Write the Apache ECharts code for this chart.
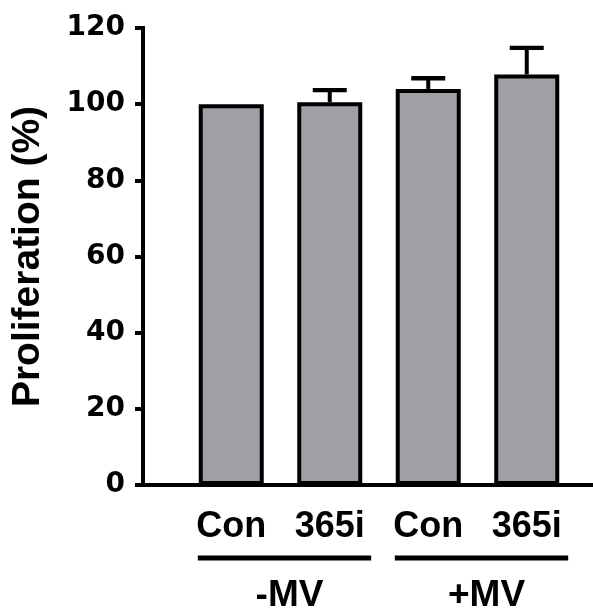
<!DOCTYPE html>
<html>
<head>
<meta charset="utf-8">
<script src="https://cdn.jsdelivr.net/npm/echarts@6/dist/echarts.min.js"></script>
<style>
html, body { margin: 0; padding: 0; background: #fff; }
#chart { width: 593px; height: 610px; }
</style>
</head>
<body>
<div id="chart"></div>
<script>
// values (% of control)
var categories = ['Con', '365i', 'Con', '365i'];
var means = [100, 100.5, 104.0, 107.8];
var errors = [0, 3.2, 2.8, 7.0];
var groupNames = ['-MV', '+MV'];
var groupStart = [0, 2];
var groupEnd = [1, 3];
var yTicks = [0, 20, 40, 60, 80, 100, 120];

var chart = echarts.init(document.getElementById('chart'));

var errData = categories.map(function (c, i) { return [i, means[i], errors[i]]; });
var groupData = groupNames.map(function (g, i) { return [groupStart[i], groupEnd[i]]; });

chart.setOption({
  animation: false,
  backgroundColor: '#fff',
  grid: [
    // axes frame
    { left: 143, right: 0, top: 28, bottom: 125 },
    // bars
    { left: 182, right: 17, top: 28, bottom: 125 }
  ],
  xAxis: [
    {
      gridIndex: 0, type: 'value', min: 0, max: 1,
      axisLine: { show: true, lineStyle: { color: '#000', width: 4, cap: 'square' } },
      axisTick: { show: false }, axisLabel: { show: false }, splitLine: { show: false }
    },
    {
      gridIndex: 1, type: 'category', data: categories,
      axisLine: { show: false }, axisTick: { show: false },
      axisLabel: {
        interval: 0, margin: 24, color: '#000',
        fontSize: 36, fontWeight: 'bold', fontFamily: 'Liberation Sans'
      }
    }
  ],
  yAxis: [
    {
      gridIndex: 0, type: 'value',
      min: yTicks[0], max: yTicks[yTicks.length - 1], interval: yTicks[1] - yTicks[0],
      name: 'Proliferation (%)', nameLocation: 'middle', nameGap: 95,
      nameTextStyle: { color: '#000', fontSize: 39, fontWeight: 'bold', fontFamily: 'Liberation Sans' },
      axisLine: { show: true, lineStyle: { color: '#000', width: 4, cap: 'square' } },
      axisTick: { show: true, length: 8, lineStyle: { color: '#000', width: 4 } },
      axisLabel: { margin: 18, color: '#000', fontSize: 28, fontWeight: 'bold', fontFamily: 'DejaVu Sans' },
      splitLine: { show: false }
    },
    {
      gridIndex: 1, type: 'value',
      min: yTicks[0], max: yTicks[yTicks.length - 1],
      show: false
    }
  ],
  series: [
    {
      type: 'bar', xAxisIndex: 1, yAxisIndex: 1,
      data: means, barWidth: 65,
      itemStyle: { color: '#a09fa5', borderColor: '#000', borderWidth: 4 }
    },
    {
      // error bars (upper only)
      type: 'custom', xAxisIndex: 1, yAxisIndex: 1, z: 5,
      data: errData,
      renderItem: function (params, api) {
        if (api.value(2) <= 0) return null;
        var i = api.value(0);
        var base = api.coord([i, api.value(1)]);
        var top = api.coord([i, api.value(1) + api.value(2)]);
        return {
          type: 'group',
          children: [
            { type: 'line', shape: { x1: base[0], y1: base[1], x2: top[0], y2: top[1] },
              style: { stroke: '#000', lineWidth: 4 } },
            { type: 'line', shape: { x1: top[0] - 17, y1: top[1], x2: top[0] + 17, y2: top[1] },
              style: { stroke: '#000', lineWidth: 4.3 } }
          ]
        };
      }
    },
    {
      // group brackets under the category labels
      type: 'custom', xAxisIndex: 1, yAxisIndex: 1,
      data: groupData,
      renderItem: function (params, api) {
        var a = api.coord([api.value(0), 0]);
        var b = api.coord([api.value(1), 0]);
        var band = api.size([1, 0])[0];
        var cx = (a[0] + b[0]) / 2 + 4;
        var half = (b[0] - a[0]) / 2 + band * 0.38;
        var y = a[1];
        return {
          type: 'group',
          children: [
            { type: 'line', shape: { x1: cx - half, y1: y + 73, x2: cx + half, y2: y + 73 },
              style: { stroke: '#000', lineWidth: 5 } },
            { type: 'text', x: cx + 5, y: y + 92,
              style: { text: groupNames[params.dataIndex], fill: '#000',
                       font: 'bold 37px "Liberation Sans"', align: 'center', verticalAlign: 'top' } }
          ]
        };
      }
    }
  ]
});
</script>
</body>
</html>
